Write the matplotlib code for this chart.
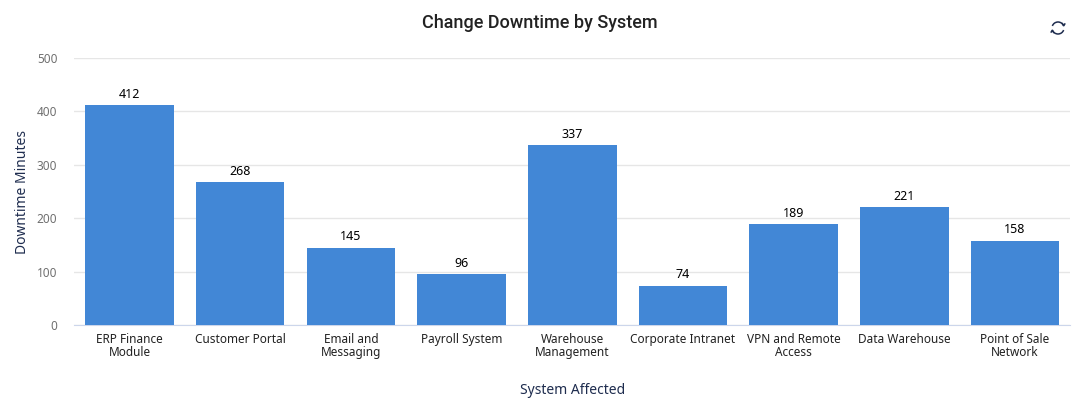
import matplotlib.pyplot as plt
from matplotlib.patches import Arc

systems = ['ERP Finance\nModule', 'Customer Portal', 'Email and\nMessaging', 'Payroll System',
           'Warehouse\nManagement', 'Corporate Intranet', 'VPN and Remote\nAccess',
           'Data Warehouse', 'Point of Sale\nNetwork']
minutes = [412, 268, 145, 96, 337, 74, 189, 221, 158]
y_ticks = [0, 100, 200, 300, 400, 500]

plt.rcParams['font.family'] = ['Noto Sans', 'DejaVu Sans']

fig = plt.figure(figsize=(10.9, 4.09), dpi=100)
ax = fig.add_axes([0.068, 0.205, 0.914, 0.653])

x = range(len(systems))
bars = ax.bar(x, minutes, width=0.8, color='#4287d6', zorder=3)
for b, v in zip(bars, minutes):
    ax.text(b.get_x() + b.get_width() / 2, v + 8, str(v), ha='center', va='bottom',
            fontsize=9, color='#000000')

ax.set_xlim(-0.5, len(systems) - 0.5)
ax.set_ylim(0, 500)
ax.set_yticks(y_ticks)
ax.set_xticks(list(x))
ax.set_xticklabels(systems, fontsize=8.5, color='#222222', linespacing=1.0)
ax.tick_params(axis='y', labelsize=8.5, colors='#707070', length=0, pad=12)
ax.tick_params(axis='x', length=0, pad=6)
ax.grid(axis='y', color='#e6e6e6', linewidth=1, zorder=0)
for s in ['top', 'right', 'left']:
    ax.spines[s].set_visible(False)
ax.spines['bottom'].set_color('#ccd6eb')

ax.set_ylabel('Downtime Minutes', fontsize=10, color='#1f2d4f', labelpad=5)
ax.set_xlabel('System Affected', fontsize=10, color='#1f2d4f', labelpad=17)

fig.text(0.495, 0.944, 'Change Downtime by System', ha='center', va='center',
         fontsize=13, color='#222222', family='Roboto', fontweight='medium')

# refresh icon
icon = fig.add_axes([1050 / 1090, 1 - 36 / 409, 16 / 1090, 16 / 409])
icon.set_xlim(-1, 1)
icon.set_ylim(-1, 1)
icon.set_aspect('equal')
icon.axis('off')
icon.add_patch(Arc((0, 0), 1.5, 1.5, theta1=20, theta2=160, color='#1f2d4f', lw=1.1))
icon.add_patch(Arc((0, 0), 1.5, 1.5, theta1=200, theta2=340, color='#1f2d4f', lw=1.1))
icon.plot([0.55, 0.72, 0.85], [0.55, 0.28, 0.5], color='#1f2d4f', lw=1.1)
icon.plot([-0.55, -0.72, -0.85], [-0.55, -0.28, -0.5], color='#1f2d4f', lw=1.1)

fig.savefig('out.png', dpi=100)
